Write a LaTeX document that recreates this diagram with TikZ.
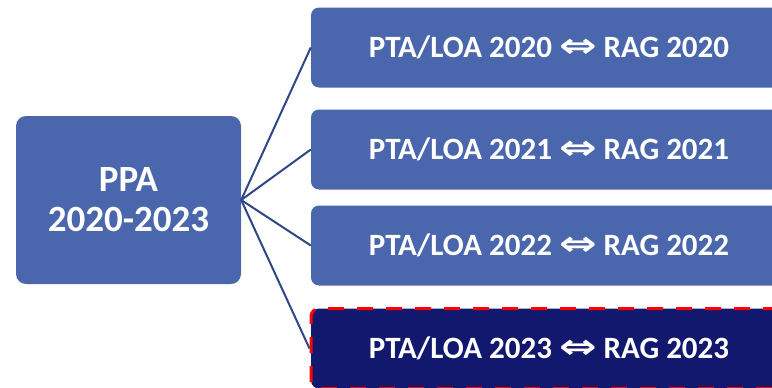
\documentclass[tikz,border=0pt]{standalone}
\usepackage{fontspec}
\setmainfont{Carlito}
\newfontfamily\symfont{DejaVu Sans}
\usepackage{graphicx}
\usepackage{tikz}
\usetikzlibrary{positioning}
\definecolor{boxblue}{HTML}{4A66AC}
\definecolor{navy}{HTML}{13186F}
\definecolor{linkblue}{HTML}{2F4785}
\newcommand{\bothways}{\scalebox{1.45}[1.1]{\symfont ⇔}}

\begin{document}
\begin{tikzpicture}[x=1pt,y=-1pt,
	yearbox/.style={fill=boxblue,rounded corners=8pt,text=white,font=\bfseries\fontsize{31}{36}\selectfont,minimum width=476pt,minimum height=80pt,inner sep=0pt},
	link/.style={draw=linkblue,line width=2pt}]
			\clip (0,0) rectangle (772,388);
			\node (ppa) [fill=boxblue,rounded corners=10pt,text=white,font=\bfseries\fontsize{37}{40}\selectfont,align=center,minimum width=225pt,minimum height=168pt,inner sep=0pt] at (128.5,200) {PPA\\2020-2023};
			\node (y20) [yearbox] at (549,47.5) {PTA/LOA 2020 \bothways{} RAG 2020};
			\node (y21) [yearbox] at (549,149.5) {PTA/LOA 2021 \bothways{} RAG 2021};
			\node (y22) [yearbox] at (549,245.5) {PTA/LOA 2022 \bothways{} RAG 2022};
			\node (y23) [yearbox,fill=navy,draw=red,line width=3pt,dash pattern=on 16pt off 13pt] at (549,348.5) {PTA/LOA 2023 \bothways{} RAG 2023};
			\foreach \y in {y20,y21,y22,y23}
				\draw[link] (ppa.east) -- (\y.west);
		\end{tikzpicture}
\end{document}
